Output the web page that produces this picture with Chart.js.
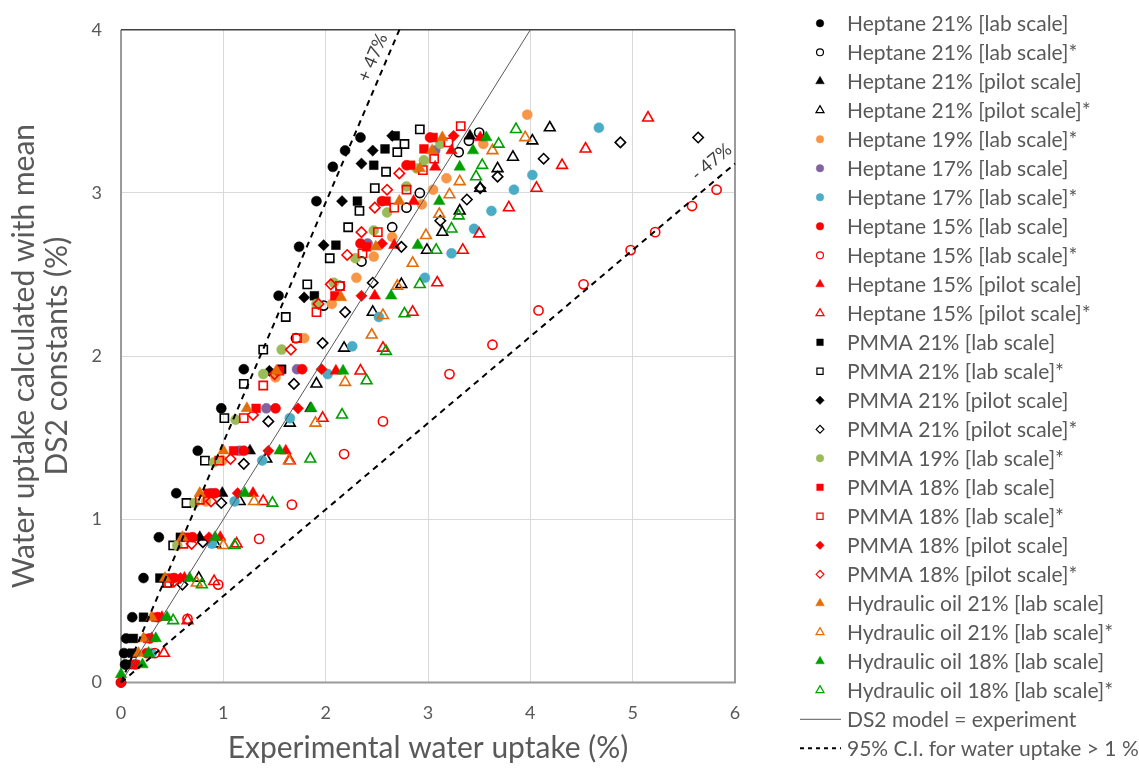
<!DOCTYPE html>
<html lang="en">
<head>
<meta charset="UTF-8">
<title>Water uptake - DS2 model vs experiment</title>
<script src="https://cdn.jsdelivr.net/npm/chart.js"></script>
<style>
  html, body { margin: 0; padding: 0; background: #ffffff; }
  #grafico { display: block; }
</style>
</head>
<body>
<canvas id="grafico" width="1139" height="769"></canvas>
<script>
// [experimental uptake %, DS2 model uptake %]
const hep21Lab = [[0,0],[0.04,0.11],[0.03,0.18],[0.05,0.27],[0.11,0.40],[0.22,0.64],[0.37,0.89],[0.54,1.16],[0.75,1.42],[0.98,1.68],[1.20,1.92],[1.54,2.37],[1.74,2.67],[1.91,2.95],[2.07,3.16],[2.19,3.26],[2.34,3.34]];
const hep21LabStar = [[1.71,2.11],[1.98,2.31],[2.14,2.43],[2.35,2.58],[2.65,2.79],[2.79,2.91],[2.92,3.00],[3.30,3.25],[3.40,3.32],[3.50,3.37]];
const hep21Pilot = [[0.77,0.89],[0.99,1.16],[1.26,1.42],[1.85,1.68],[3.41,3.35]];
const hep21PilotStar = [[0.76,0.64],[0.92,0.85],[1.16,1.11],[1.42,1.37],[1.65,1.59],[1.91,1.83],[2.18,2.05],[2.46,2.27],[2.74,2.44],[2.99,2.65],[3.14,2.76],[3.31,2.89],[3.51,3.03],[3.68,3.15],[3.83,3.22],[4.02,3.32],[4.19,3.40]];
const hep19LabStar = [[0.83,1.11],[0.99,1.36],[1.51,1.87],[1.79,2.11],[2.06,2.32],[2.30,2.48],[2.47,2.61],[2.65,2.73],[2.94,2.93],[3.05,3.02],[3.18,3.09],[3.54,3.30],[3.97,3.48]];
const hep17Lab = [[0.88,1.16],[1.16,1.42],[1.42,1.68],[1.72,1.92],[2.41,2.69],[3.07,3.26]];
const hep17LabStar = [[0.30,0.18],[0.89,0.85],[1.11,1.11],[1.38,1.36],[1.65,1.62],[2.02,1.89],[2.26,2.06],[2.52,2.24],[2.97,2.48],[3.23,2.63],[3.45,2.78],[3.62,2.89],[3.84,3.02],[4.02,3.11],[4.67,3.40]];
const hep15Lab = [[0,0],[0.14,0.11],[0.25,0.18],[0.28,0.27],[0.36,0.40],[0.52,0.64],[0.70,0.89],[0.92,1.16],[1.20,1.42],[1.51,1.68],[1.77,1.92],[2.34,2.69],[2.55,2.95],[2.79,3.17],[3.02,3.34]];
const hep15LabStar = [[0.33,0.18],[0.65,0.39],[0.95,0.60],[1.35,0.88],[1.67,1.09],[2.18,1.40],[2.56,1.60],[3.21,1.89],[3.63,2.07],[4.08,2.28],[4.52,2.44],[4.98,2.65],[5.22,2.76],[5.58,2.92],[5.82,3.02]];
const hep15Pilot = [[0.30,0.27],[0.40,0.40],[0.62,0.64],[0.97,0.89],[1.29,1.16],[1.61,1.42],[2.10,1.91],[2.48,2.37],[2.67,2.68],[2.86,2.95],[3.07,3.16],[3.23,3.26],[3.51,3.34]];
const hep15PilotStar = [[0.42,0.18],[0.65,0.38],[0.91,0.62],[1.13,0.85],[1.39,1.11],[1.65,1.36],[1.97,1.62],[2.34,1.91],[2.56,2.05],[2.85,2.27],[3.09,2.45],[3.34,2.65],[3.50,2.75],[3.79,2.91],[4.06,3.03],[4.31,3.17],[4.54,3.27],[5.15,3.46]];
const pmma21Lab = [[0.07,0.11],[0.11,0.18],[0.12,0.27],[0.22,0.40],[0.38,0.64],[0.58,0.89],[1.57,1.92],[1.89,2.37],[2.10,2.68],[2.31,2.95],[2.47,3.17],[2.58,3.27],[2.68,3.35]];
const pmma21LabStar = [[0.45,0.61],[0.51,0.84],[0.64,1.10],[0.82,1.36],[1.01,1.62],[1.20,1.83],[1.39,2.04],[1.61,2.24],[1.82,2.44],[2.04,2.60],[2.22,2.79],[2.33,2.89],[2.48,3.03],[2.59,3.13],[2.70,3.25],[2.77,3.30],[2.92,3.39]];
const pmma21Pilot = [[1.45,1.91],[1.79,2.36],[1.98,2.68],[2.16,2.95],[2.35,3.18],[2.46,3.26],[2.65,3.35]];
const pmma21PilotStar = [[0.60,0.60],[0.80,0.86],[0.98,1.10],[1.20,1.34],[1.44,1.60],[1.69,1.83],[1.97,2.08],[2.19,2.27],[2.46,2.45],[2.74,2.67],[3.12,2.83],[3.38,2.96],[3.51,3.03],[3.68,3.10],[4.13,3.21],[4.88,3.31],[5.64,3.34]];
const pmma19LabStar = [[0.55,0.84],[0.72,1.10],[0.91,1.35],[1.12,1.61],[1.39,1.89],[1.57,2.04],[1.91,2.32],[2.08,2.45],[2.29,2.60],[2.47,2.77],[2.60,2.88],[2.79,3.04],[2.89,3.15],[2.96,3.20],[3.12,3.30]];
const pmma18Lab = [[0.14,0.11],[0.26,0.27],[0.34,0.40],[0.48,0.64],[0.66,0.89],[0.85,1.16],[1.10,1.42],[1.32,1.68],[1.55,1.91],[2.09,2.37],[2.40,2.67],[2.59,2.95],[2.83,3.17],[2.96,3.27],[3.05,3.34]];
const pmma18LabStar = [[0.47,0.61],[0.61,0.85],[0.77,1.12],[0.96,1.36],[1.20,1.62],[1.39,1.82],[1.72,2.11],[1.91,2.27],[2.14,2.43],[2.36,2.63],[2.51,2.76],[2.67,2.91],[2.79,3.02],[2.95,3.14],[3.06,3.21],[3.20,3.31],[3.32,3.41]];
const pmma18Pilot = [[0.58,0.64],[0.86,0.89],[1.14,1.16],[1.44,1.42],[1.73,1.68],[1.96,1.92],[2.35,2.37],[2.55,2.69],[3.25,3.35]];
const pmma18PilotStar = [[0.52,0.62],[0.69,0.85],[0.88,1.11],[1.07,1.37],[1.29,1.64],[1.50,1.89],[1.66,2.04],[1.93,2.32],[2.05,2.44],[2.21,2.62],[2.35,2.76],[2.48,2.91],[2.60,3.02],[2.72,3.12]];
const hyd21Lab = [[0.17,0.18],[0.22,0.27],[0.30,0.40],[0.43,0.64],[0.60,0.89],[0.77,1.16],[1.00,1.42],[1.23,1.68],[1.52,1.91],[2.15,2.36],[2.49,2.67],[2.72,2.95],[2.92,3.15],[3.04,3.26],[3.14,3.34]];
const hyd21LabStar = [[0.74,0.61],[1.00,0.84],[1.30,1.11],[1.64,1.36],[1.90,1.59],[2.19,1.84],[2.45,2.13],[2.56,2.25],[2.70,2.43],[2.85,2.57],[2.98,2.74],[3.11,2.87],[3.21,2.99],[3.31,3.07],[3.63,3.26],[3.95,3.34]];
const hyd18Lab = [[0,0.05],[0.21,0.11],[0.27,0.18],[0.34,0.27],[0.45,0.40],[0.67,0.64],[0.92,0.89],[1.21,1.16],[1.55,1.42],[1.86,1.68],[2.17,1.91],[2.64,2.37],[2.90,2.68],[3.11,2.95],[3.31,3.16],[3.44,3.26],[3.57,3.34]];
const hyd18LabStar = [[0.51,0.38],[0.79,0.60],[1.11,0.84],[1.48,1.10],[1.85,1.37],[2.16,1.64],[2.40,1.85],[2.59,2.03],[2.77,2.26],[2.92,2.44],[3.08,2.65],[3.23,2.78],[3.30,2.86],[3.47,3.10],[3.53,3.17],[3.69,3.30],[3.86,3.39]];

// reference lines: 1:1 and the +/- 47 % band
const modelLine = [[0,0],[4,4]];
const ciUpper = [[0,0],[2.72,4]];
const ciLower = [[0,0],[6,3.18]];

const xTicks = [0, 1, 2, 3, 4, 5, 6];
const yTicks = [0, 1, 2, 3, 4];

const CINZA = '#595959';
const FONTE = 'Lato, "Liberation Sans", Arial, sans-serif';

// marker sizes per point style
const tamanho = { circle: 5, rect: 6.2, rectRot: 5.6, triangle: 6.6 };

function pontos(arr) {
    return arr.map(p => ({ x: p[0], y: p[1] }));
}

function serie(label, arr, estilo, cor, aberto) {
    return {
        label: label,
        data: pontos(arr),
        pointStyle: estilo,
        pointRadius: aberto ? tamanho[estilo] - 0.4 : tamanho[estilo],
        pointBackgroundColor: aberto ? 'rgba(0,0,0,0)' : cor,
        pointBorderColor: cor,
        pointBorderWidth: aberto ? 1.6 : 0.5,
        showLine: false,
        aberto: aberto
    };
}

function linha(label, arr, cor, largura, tracejado) {
    return {
        label: label,
        data: pontos(arr),
        showLine: true,
        borderColor: cor,
        borderWidth: largura,
        borderDash: tracejado,
        pointRadius: 0,
        fill: false
    };
}

var datasets = [
    serie('Heptane 21% [lab scale]', hep21Lab, 'circle', '#000000', false),
    serie('Heptane 21% [lab scale]*', hep21LabStar, 'circle', '#000000', true),
    serie('Heptane 21% [pilot scale]', hep21Pilot, 'triangle', '#000000', false),
    serie('Heptane 21% [pilot scale]*', hep21PilotStar, 'triangle', '#000000', true),
    serie('Heptane 19% [lab scale]*', hep19LabStar, 'circle', '#F79646', false),
    serie('Heptane 17% [lab scale]', hep17Lab, 'circle', '#8064A2', false),
    serie('Heptane 17% [lab scale]*', hep17LabStar, 'circle', '#4BACC6', false),
    serie('Heptane 15% [lab scale]', hep15Lab, 'circle', '#FF0000', false),
    serie('Heptane 15% [lab scale]*', hep15LabStar, 'circle', '#FF0000', true),
    serie('Heptane 15% [pilot scale]', hep15Pilot, 'triangle', '#FF0000', false),
    serie('Heptane 15% [pilot scale]*', hep15PilotStar, 'triangle', '#FF0000', true),
    serie('PMMA 21% [lab scale]', pmma21Lab, 'rect', '#000000', false),
    serie('PMMA 21% [lab scale]*', pmma21LabStar, 'rect', '#000000', true),
    serie('PMMA 21% [pilot scale]', pmma21Pilot, 'rectRot', '#000000', false),
    serie('PMMA 21% [pilot scale]*', pmma21PilotStar, 'rectRot', '#000000', true),
    serie('PMMA 19% [lab scale]*', pmma19LabStar, 'circle', '#9BBB59', false),
    serie('PMMA 18% [lab scale]', pmma18Lab, 'rect', '#FF0000', false),
    serie('PMMA 18% [lab scale]*', pmma18LabStar, 'rect', '#FF0000', true),
    serie('PMMA 18% [pilot scale]', pmma18Pilot, 'rectRot', '#FF0000', false),
    serie('PMMA 18% [pilot scale]*', pmma18PilotStar, 'rectRot', '#FF0000', true),
    serie('Hydraulic oil 21% [lab scale]', hyd21Lab, 'triangle', '#E46C0A', false),
    serie('Hydraulic oil 21% [lab scale]*', hyd21LabStar, 'triangle', '#E46C0A', true),
    serie('Hydraulic oil 18% [lab scale]', hyd18Lab, 'triangle', '#00A000', false),
    serie('Hydraulic oil 18% [lab scale]*', hyd18LabStar, 'triangle', '#00A000', true),
    linha('DS2 model = experiment', modelLine, '#595959', 1, []),
    linha('95% C.I. for water uptake > 1 %', ciUpper, '#000000', 2, [6, 5]),
    linha('', ciLower, '#000000', 2, [6, 5])
];

// later series sit on top of earlier ones
datasets.forEach((d, i) => { d.order = -i; d.clip = false; });

// frame around the plot area
const moldura = {
    id: 'moldura',
    beforeDatasetsDraw(chart) {
        const { ctx, chartArea: a } = chart;
        ctx.save();
        ctx.lineWidth = 2;
        ctx.strokeStyle = '#9a9a9a';
        ctx.beginPath();
        ctx.moveTo(a.left, a.top);
        ctx.lineTo(a.left, a.bottom);
        ctx.lineTo(a.right, a.bottom);
        ctx.lineTo(a.right, a.top);
        ctx.stroke();
        ctx.strokeStyle = '#404040';
        ctx.lineWidth = 1.5;
        ctx.beginPath();
        ctx.moveTo(a.left, a.top);
        ctx.lineTo(a.right, a.top);
        ctx.stroke();
        ctx.restore();
    }
};

// "+ 47%" / "- 47%" written along the dashed lines
const rotulosIC = {
    id: 'rotulosIC',
    afterDatasetsDraw(chart, args, opts) {
        const { ctx, scales: { x, y } } = chart;
        ctx.save();
        ctx.font = '18px ' + FONTE;
        ctx.fillStyle = '#404040';
        ctx.textAlign = 'center';
        ctx.textBaseline = 'middle';
        opts.itens.forEach(r => {
            const l = r.linha;
            const ang = Math.atan2(y.getPixelForValue(l[1][1]) - y.getPixelForValue(l[0][1]),
                                   x.getPixelForValue(l[1][0]) - x.getPixelForValue(l[0][0]));
            ctx.save();
            ctx.translate(x.getPixelForValue(r.x), y.getPixelForValue(r.y));
            ctx.rotate(ang);
            ctx.fillText(r.texto, 0, 0);
            ctx.restore();
        });
        ctx.restore();
    }
};

// legend column on the right
const legenda = {
    id: 'legenda',
    afterDraw(chart, args, opts) {
        const { ctx } = chart;
        ctx.save();
        ctx.font = opts.tamanhoFonte + 'px ' + FONTE;
        ctx.textBaseline = 'middle';
        ctx.textAlign = 'left';
        var linhaY = opts.y0;
        chart.data.datasets.forEach(d => {
            if (!d.label) return;
            if (d.showLine) {
                ctx.strokeStyle = d.borderColor;
                ctx.lineWidth = d.borderWidth;
                ctx.setLineDash(d.borderDash.length ? [4, 4] : []);
                ctx.beginPath();
                ctx.moveTo(opts.xLinha0, linhaY);
                ctx.lineTo(opts.xLinha1, linhaY);
                ctx.stroke();
                ctx.setLineDash([]);
            } else {
                ctx.fillStyle = d.pointBackgroundColor;
                ctx.strokeStyle = d.pointBorderColor;
                ctx.lineWidth = d.aberto ? 1.2 : 0.5;
                Chart.helpers.drawPoint(ctx, {
                    pointStyle: d.pointStyle,
                    radius: d.pointRadius * 0.75,
                    rotation: 0,
                    borderWidth: ctx.lineWidth
                }, opts.xMarca, linhaY);
            }
            ctx.fillStyle = CINZA;
            ctx.fillText(d.label, opts.xTexto, linhaY + 1);
            linhaY += opts.passo;
        });
        ctx.restore();
    }
};

new Chart(document.getElementById('grafico'), {
    type: 'scatter',
    data: { datasets: datasets },
    plugins: [moldura, rotulosIC, legenda],
    options: {
        responsive: false,
        animation: false,
        events: [],
        layout: { padding: { left: 0, right: 404, top: 18, bottom: 0 } },
        plugins: {
            legend: { display: false },
            tooltip: { enabled: false },
            rotulosIC: {
                itens: [
                    { texto: '+ 47%', x: 2.46, y: 3.83, linha: ciUpper },
                    { texto: '- 47%', x: 5.77, y: 3.19, linha: ciLower }
                ]
            },
            legenda: { y0: 23.3, passo: 29.0, xMarca: 820, xTexto: 847, xLinha0: 800, xLinha1: 841, tamanhoFonte: 21 }
        },
        scales: {
            x: {
                type: 'linear',
                min: 0,
                max: 6,
                afterFit: s => { s.height = 86.5; },
                afterBuildTicks: s => { s.ticks = xTicks.map(v => ({ value: v })); },
                grid: { color: '#d9d9d9', lineWidth: 1, drawTicks: false },
                border: { display: false },
                ticks: { color: CINZA, font: { family: FONTE, size: 18 }, padding: 20 },
                title: {
                    display: true,
                    text: 'Experimental water uptake (%)',
                    color: CINZA,
                    font: { family: FONTE, size: 30 },
                    padding: { top: 0, bottom: 3 }
                }
            },
            y: {
                type: 'linear',
                min: 0,
                max: 4,
                afterFit: s => { s.width = 121; },
                afterBuildTicks: s => { s.ticks = yTicks.map(v => ({ value: v })); },
                grid: { color: '#d9d9d9', lineWidth: 1, drawTicks: false },
                border: { display: false },
                ticks: { color: CINZA, font: { family: FONTE, size: 18 }, padding: 19 },
                title: {
                    display: true,
                    text: ['Water uptake calculated with mean', 'DS2 constants (%)'],
                    color: CINZA,
                    font: { family: FONTE, size: 30, lineHeight: 1.1 },
                    padding: { top: 8, bottom: 0 }
                }
            }
        }
    }
});
</script>
</body>
</html>
